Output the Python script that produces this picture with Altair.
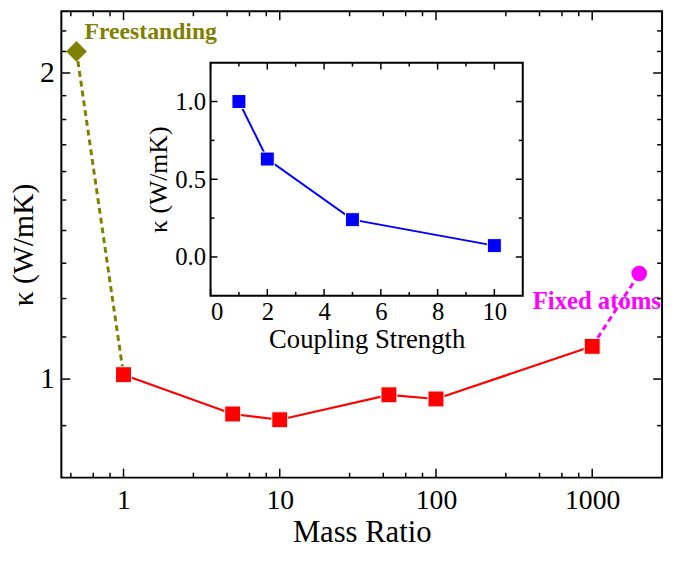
import altair as alt
import pandas as pd

# ---------------- data ----------------
mass_ratio = [1, 5, 10, 50, 100, 1000]
kappa_main = [1.01, 0.924, 0.912, 0.965, 0.956, 1.077]

free_x = [0.5, 1]
free_y = [2.10, 1.01]
fixed_x = [1000, 2000]
fixed_y = [1.077, 1.27]

coupling = [1, 2, 5, 10]
kappa_inset = [1.0, 0.63, 0.24, 0.073]

x_major = [1, 10, 100, 1000]
x_minor = [0.46, 0.64, 0.82, 2.8, 4.6, 6.4, 8.2, 28, 46, 64, 82, 280, 460, 640, 820]
y_major = [1, 2]
y_minor = [0.9, 1.1, 1.2, 1.3, 1.4, 1.5, 1.6, 1.7, 1.8, 1.9, 2.1, 2.2]

in_x_major = [0, 2, 4, 6, 8, 10]
in_x_minor = [1, 3, 5, 7, 9]
in_y_major = [0.0, 0.5, 1.0]
in_y_minor = [0.25, 0.75]

main_x_dom = [0.4, 2800]
main_y_dom = [0.8, 2.3]
in_x_dom = [0, 11]
in_y_dom = [-0.25, 1.25]

# ---------------- layout ----------------
W, H = 608, 472
IL, IR, IT, IB = 151, 467, 52, 288
FONT = "Liberation Serif"

xs = alt.Scale(type="log", domain=main_x_dom, nice=False)
ys = alt.Scale(type="log", domain=main_y_dom, nice=False)
ixs = alt.Scale(domain=in_x_dom, range=[IL, IR], nice=False, zero=False)
iys = alt.Scale(domain=in_y_dom, range=[IB, IT], nice=False, zero=False)

x_axis = alt.Axis(values=x_major, labelExpr="format(datum.value, 'd')", ticks=False,
                  domain=False, grid=False, title="Mass Ratio", labelFontSize=28,
                  titleFontSize=31, labelPadding=9, titlePadding=4, orient="bottom")
y_axis = alt.Axis(values=y_major, labelExpr="format(datum.value, 'd')", ticks=False,
                  domain=False, grid=False, title="κ (W/mK)", labelFontSize=30,
                  titleFontSize=30, labelPadding=7, titlePadding=1, orient="left")
ix_axis = alt.Axis(values=in_x_major, format="d", ticks=False, domain=False, grid=False,
                   title="Coupling Strength", labelFontSize=25, titleFontSize=27,
                   labelPadding=4, titlePadding=2, orient="bottom", offset=-(H - IB))
iy_axis = alt.Axis(values=in_y_major, format=".1f", ticks=False, domain=False, grid=False,
                   title="κ (W/mK)", labelFontSize=25, titleFontSize=26,
                   labelPadding=5, titlePadding=3, orient="left", offset=-IL)

main_df = pd.DataFrame({"x": mass_ratio, "y": kappa_main})
free_df = pd.DataFrame({"x": free_x, "y": free_y})
fixed_df = pd.DataFrame({"x": fixed_x, "y": fixed_y})
inset_df = pd.DataFrame({"x": coupling, "y": kappa_inset})


def X(s=xs, a=x_axis):
    return alt.X("x:Q", scale=s, axis=a)


def Y(s=ys, a=y_axis):
    return alt.Y("y:Q", scale=s, axis=a)


red_line = alt.Chart(main_df).mark_line(color="#ff0000", strokeWidth=2.2).encode(x=X(), y=Y())
free_line = alt.Chart(free_df).mark_line(color="#808000", strokeWidth=3, strokeDash=[6, 4]).encode(x=X(), y=Y())
fixed_line = alt.Chart(fixed_df).mark_line(color="#ff00ff", strokeWidth=3, strokeDash=[6, 4]).encode(x=X(), y=Y())
red_pts = alt.Chart(main_df).mark_point(shape="square", filled=True, size=260, color="#ff0000",
                                        opacity=1, stroke="white", strokeWidth=1).encode(x=X(), y=Y())
free_pt = alt.Chart(free_df.iloc[[0]]).mark_point(shape="diamond", filled=True, size=440, color="#808000",
                                                  opacity=1).encode(x=X(), y=Y())
fixed_pt = alt.Chart(fixed_df.iloc[[1]]).mark_point(shape="circle", filled=True, size=250, color="#ff00ff",
                                                    opacity=1).encode(x=X(), y=Y())
free_txt = alt.Chart(free_df.iloc[[0]]).mark_text(text="Freestanding", font=FONT, fontSize=24,
                                                  fontWeight="bold", color="#808000", align="left",
                                                  baseline="middle", dx=8, dy=-20).encode(x=X(), y=Y())
fixed_txt = alt.Chart(fixed_df.iloc[[1]]).mark_text(text="Fixed atoms", font=FONT, fontSize=25,
                                                    fontWeight="bold", color="#ff00ff", align="right",
                                                    baseline="middle", dx=22, dy=28).encode(x=X(), y=Y())

# tick marks (inside)
def xticks(vals, length, s, a, ybot, ytop):
    df = pd.DataFrame({"x": vals})
    bot = alt.Chart(df).mark_rule(color="black", strokeWidth=1.5).encode(
        x=X(s, a), y=alt.value(ybot), y2=alt.value(ybot - length))
    top = alt.Chart(df).mark_rule(color="black", strokeWidth=1.5).encode(
        x=X(s, a), y=alt.value(ytop), y2=alt.value(ytop + length))
    return [bot, top]


def yticks(vals, length, s, a, xl, xr):
    df = pd.DataFrame({"y": vals})
    left = alt.Chart(df).mark_rule(color="black", strokeWidth=1.5).encode(
        y=Y(s, a), x=alt.value(xl), x2=alt.value(xl + length))
    right = alt.Chart(df).mark_rule(color="black", strokeWidth=1.5).encode(
        y=Y(s, a), x=alt.value(xr), x2=alt.value(xr - length))
    return [left, right]


main_ticks = (xticks(x_major, 9, xs, x_axis, H, 0) + xticks(x_minor, 5, xs, x_axis, H, 0)
              + yticks(y_major, 9, ys, y_axis, 0, W) + yticks(y_minor, 5, ys, y_axis, 0, W))

main = alt.layer(red_line, free_line, fixed_line, red_pts, free_pt, fixed_pt,
                 free_txt, fixed_txt, *main_ticks)

# ---------------- inset ----------------
frame_df = pd.DataFrame({"x": [in_x_dom[0]], "x2": [in_x_dom[1]],
                         "y": [in_y_dom[0]], "y2": [in_y_dom[1]]})
inset_frame = alt.Chart(frame_df).mark_rect(fill="white", stroke="black", strokeWidth=2).encode(
    x=X(ixs, ix_axis), x2="x2:Q", y=Y(iys, iy_axis), y2="y2:Q")
blue_line = alt.Chart(inset_df).mark_line(color="#0000ff", strokeWidth=2).encode(
    x=X(ixs, ix_axis), y=Y(iys, iy_axis))
blue_pts = alt.Chart(inset_df).mark_point(shape="square", filled=True, size=200, color="#0000ff",
                                          opacity=1, stroke="white", strokeWidth=1).encode(
    x=X(ixs, ix_axis), y=Y(iys, iy_axis))
inset_ticks = (xticks(in_x_major, 7, ixs, ix_axis, IB, IT) + xticks(in_x_minor, 4, ixs, ix_axis, IB, IT)
               + yticks(in_y_major, 7, iys, iy_axis, IL, IR) + yticks(in_y_minor, 4, iys, iy_axis, IL, IR))

inset = alt.layer(inset_frame, *inset_ticks, blue_line, blue_pts)

chart = alt.layer(main, inset).resolve_scale(x="independent", y="independent").properties(
    width=W, height=H,
    autosize=alt.AutoSizeParams(type="none"),
    padding={"left": 54, "top": 0, "right": 5, "bottom": 76},
).configure_view(stroke="black", strokeWidth=2).configure_axis(
    labelFont=FONT, titleFont=FONT, labelColor="black", titleColor="black",
    titleFontWeight="normal", labelFontWeight="normal"
)

chart.save("out.html", embed_options={"renderer": "svg", "actions": False})
